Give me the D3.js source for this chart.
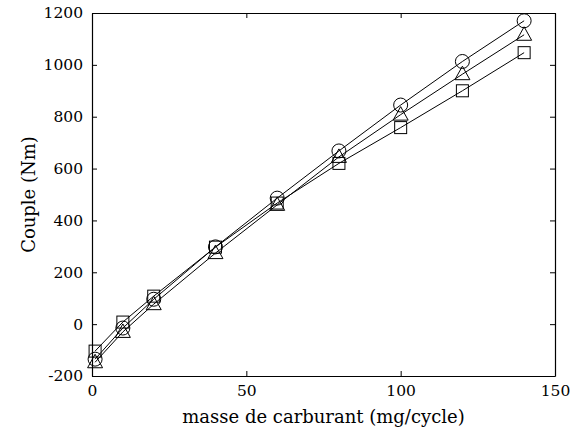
<!DOCTYPE html>
<html>
<head>
<meta charset="utf-8">
<script src="https://cdn.jsdelivr.net/npm/d3@7"></script>
<style>
  body { margin: 0; background: #fff; }
</style>
</head>
<body>
<svg id="chart" width="585" height="438"></svg>
<script>
// masse de carburant (mg/cycle)
const masse = [1, 10, 20, 40, 60, 80, 100, 120, 140]
// couple (Nm), one array per marker
const coupleCercle = [-135, -15, 96, 298, 486, 668, 845, 1013, 1170]
const coupleTriangle = [-147, -30, 77, 274, 460, 645, 808, 964, 1116]
const coupleCarre = [-104, 8, 108, 297, 467, 620, 758, 900, 1047]
const xTicks = [0, 50, 100, 150]
const yTicks = [-200, 0, 200, 400, 600, 800, 1000, 1200]

const margin = { top: 13, right: 30, bottom: 62, left: 92 }
const width = 585, height = 438
const tickSize = "15.5px", titleSize = "18px"
const serifFont = "'DejaVu Serif', serif"

const svg = d3.select("#chart")

let xScale = d3.scaleLinear()
    .domain([0, 150])
    .range([margin.left, width - margin.right])
let yScale = d3.scaleLinear()
    .domain([-200, 1200])
    .range([height - margin.bottom, margin.top])

const plainFormat = d => String(d)

// ticks pointing inside, on every side of the box
const tickLen = 5
svg.append("g")
    .attr("transform", "translate(0," + (height - margin.bottom) + ")")
    .call(d3.axisBottom(xScale).tickValues(xTicks).tickFormat(plainFormat).tickSizeInner(-tickLen).tickSizeOuter(0).tickPadding(9))
svg.append("g")
    .attr("transform", "translate(0," + margin.top + ")")
    .call(d3.axisTop(xScale).tickValues(xTicks).tickSizeInner(-tickLen).tickSizeOuter(0).tickFormat(""))
svg.append("g")
    .attr("transform", "translate(" + margin.left + ",0)")
    .call(d3.axisLeft(yScale).tickValues(yTicks).tickFormat(plainFormat).tickSizeInner(-tickLen).tickSizeOuter(0).tickPadding(9))
svg.append("g")
    .attr("transform", "translate(" + (width - margin.right) + ",0)")
    .call(d3.axisRight(yScale).tickValues(yTicks).tickSizeInner(-tickLen).tickSizeOuter(0).tickFormat(""))

svg.selectAll("g").attr("font-family", null)
svg.selectAll(".tick text")
    .style("font-family", serifFont)
    .style("font-size", tickSize)
    .attr("fill", "#000")
svg.selectAll(".domain").attr("stroke", "#000").attr("stroke-width", 1.2)
svg.selectAll(".tick line").attr("stroke", "#000")

// axis titles
svg.append("text")
    .attr("x", (margin.left + width - margin.right) / 2)
    .attr("y", 423)
    .attr("text-anchor", "middle")
    .style("font-family", serifFont)
    .style("font-size", titleSize)
    .text("masse de carburant (mg/cycle)")
svg.append("text")
    .attr("transform", "translate(35," + ((margin.top + height - margin.bottom) / 2) + ") rotate(-90)")
    .attr("text-anchor", "middle")
    .style("font-family", serifFont)
    .style("font-size", titleSize)
    .text("Couple (Nm)")

const series = [
    { name: "cercle", values: coupleCercle },
    { name: "triangle", values: coupleTriangle },
    { name: "carre", values: coupleCarre }
]

let lineGenerator = d3.line()
    .x((d, i) => xScale(masse[i]))
    .y(d => yScale(d))

series.forEach(s => {
    svg.append("path")
        .attr("class", "line-" + s.name)
        .attr("d", lineGenerator(s.values))
        .attr("fill", "none")
        .attr("stroke", "#000")
        .attr("stroke-width", 1)

    const g = svg.selectAll(".mark-" + s.name)
        .data(s.values)
        .enter()
        .append("g")
        .attr("class", "mark-" + s.name)
        .attr("transform", (d, i) => "translate(" + xScale(masse[i]) + "," + yScale(d) + ")")

    if (s.name == "cercle") {
        g.append("circle").attr("r", 7)
    } else if (s.name == "triangle") {
        g.append("path").attr("d", "M0,-8L7.5,5.5L-7.5,5.5Z")
    } else {
        g.append("rect").attr("x", -6).attr("y", -6).attr("width", 12).attr("height", 12)
    }
    g.selectAll("*").attr("fill", "none").attr("stroke", "#000").attr("stroke-width", 1)
})
</script>
</body>
</html>
